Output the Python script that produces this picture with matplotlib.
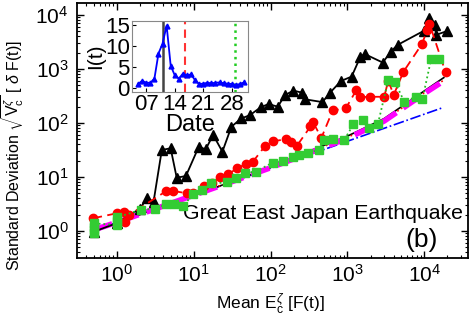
import matplotlib
matplotlib.use("Agg")
import matplotlib.pyplot as plt
import numpy as np

plt.rcParams['font.family'] = ['Liberation Sans', 'DejaVu Sans']
plt.rcParams['mathtext.fontset'] = 'custom'
plt.rcParams['mathtext.rm'] = 'Liberation Sans'
plt.rcParams['mathtext.it'] = 'Liberation Sans:italic'
plt.rcParams['mathtext.sf'] = 'Liberation Sans'

# main panel: mean vs standard deviation
tri_x = [0.50, 1.0, 2.0, 2.45, 3.0, 3.84, 5.0, 6.0, 7.9, 11.6, 14.3, 17.9, 23.6, 30.9,
         41.4, 53.7, 74, 94, 124, 155, 198, 257, 277, 473, 596, 828, 1135, 1480, 1690,
         2890, 3670, 4500, 10000, 11700, 13700, 14300, 20000]
tri_y = [0.97, 1.4, 2.6, 4.0, 3.5, 31.6, 34, 9.7, 10.4, 36, 32.6, 60, 29.4, 85,
         121, 139, 194, 224, 200, 330, 396, 364, 275, 243, 364, 600, 720, 1690, 1880,
         1310, 2090, 2780, 5120, 8870, 6390, 4270, 5040]

cir_x = [0.49, 1.0, 1.24, 1.27, 1.44, 4.4, 5.4, 8.1, 9.7, 13.4, 17.1, 22, 28, 36.8,
         47.5, 59, 84, 107, 159, 186, 218, 331, 357, 458, 644, 955, 1310, 1460, 1990,
         3020, 3400, 4010, 5350, 9360, 11000, 11700, 19000]
cir_y = [1.72, 2.13, 2.28, 1.49, 1.98, 5.5, 5.5, 5.0, 5.1, 6.8, 7.6, 9.9, 11.3, 14.4,
         17.4, 19.2, 36.8, 46, 49.7, 45, 37, 86, 104, 52.6, 170, 187, 406, 300, 305,
         305, 604, 330, 880, 2900, 5350, 6900, 862]

sq_x = [0.5, 0.5, 0.5, 0.5, 1.0, 1.0, 1.0, 2.05, 3.1, 4.4, 5.5, 7.3, 9.9, 13, 17, 27,
        36, 46, 64, 107, 144, 194, 237, 304, 433, 490, 650, 910, 1200, 1580, 1930, 2500,
        3400, 4150, 5500, 7800, 9500, 12300, 15600]
sq_y = [0.92, 1.05, 1.2, 1.38, 1.3, 1.55, 1.8, 2.45, 2.6, 3.1, 3.1, 2.95, 4.8, 5.75, 7.6, 7.9,
        9.4, 11.8, 12.6, 18.5, 19.8, 23.7, 25.5, 28.3, 31.5, 48.5, 50.5, 48.5, 94.5, 113, 80, 96,
        625, 580, 247, 305, 278, 1510, 1510]

# fitted curves
fit_x = [0.5, 1, 3, 10, 30, 100, 300, 1000, 3000, 10000, 18000]
fit_black = [0.97, 1.4, 2.5, 4.6, 8.0, 15.0, 29, 57, 120, 390, 690]
fit_red = [1.0, 1.42, 2.5, 4.6, 8.0, 14.8, 28, 54, 112, 360, 620]
mag_x = [0.5, 1, 3, 10, 30, 100, 300, 1000, 3000, 10000, 16000]
fit_mag = [1.05, 1.45, 2.5, 4.6, 8.0, 14.8, 27, 52, 108, 350, 540]
blue_x = [0.5, 17300]
fit_blue = [1.02, 191]

# inset: I(t) by date in March
days = list(range(5, 32))
itens = [0.9, 1.7, 1.2, 1.2, 2.2, 8.2, 10.6, 14.9, 5.3, 3.0, 2.2, 3.4, 3.0, 3.2,
         1.8, 0.9, 1.0, 1.2, 1.1, 1.2, 1.3, 1.1, 1.0, 0.9, 0.7, 0.9, 1.3]
day_quake = 11
day_red = 16.5
day_green = 28.8

fig = plt.figure(figsize=(4.72, 3.27), dpi=100)
ax = fig.add_axes([0.1631, 0.211, 0.8284, 0.7798])

ax.plot(blue_x, fit_blue, '-.', color='#0000ff', lw=1.2, zorder=2)
ax.plot(fit_x, fit_black, '-', color='black', lw=1.2, zorder=3)
ax.plot(fit_x, fit_red, ':', color='red', lw=1.2, zorder=3)
ax.plot(mag_x, fit_mag, '--', color='#ff00ff', lw=4, dashes=(3.5, 1.5), zorder=4)

ax.plot(tri_x, tri_y, '-^', color='black', lw=1.3, ms=6.5, zorder=5)
ax.plot(cir_x, cir_y, '--o', color='red', lw=1.3, ms=6, dashes=(5, 3), zorder=6)
ax.plot(sq_x, sq_y, ':s', color='#22bb22', mfc='#33cc33', mec='#33cc33', lw=1.3, ms=6, zorder=7)

ax.set_xscale('log')
ax.set_yscale('log')
ax.set_xlim(10**-0.52, 10**4.57)
ax.set_ylim(10**-0.5, 10**4.22)
ax.set_xticks([1, 10, 100, 1000, 10000])
ax.set_yticks([1, 10, 100, 1000, 10000])
ax.tick_params(which='both', direction='in', top=True, right=True, labelsize=15)
ax.tick_params(which='major', length=5, width=1)
ax.tick_params(which='minor', length=2.5, width=0.8)
ax.tick_params(axis='x', pad=4)
ax.tick_params(axis='y', pad=6)
for s in ax.spines.values():
    s.set_linewidth(1.3)

ax.set_xlabel(r'Mean E$_\mathrm{c}^\zeta$ [F(t)]', fontsize=12.5)
ax.xaxis.set_label_coords(0.496, -0.13)
ax.set_ylabel(r'Standard Deviation $\sqrt{\mathrm{V}_\mathrm{c}^\zeta}$ [ $\delta$ F(t)]', fontsize=11.5)
ax.yaxis.set_label_coords(-0.13, 0.40)

ax.text(0.272, 0.175, 'Great East Japan Earthquake', transform=ax.transAxes,
        fontsize=15.3, va='center', ha='left')
ax.text(0.88, 0.07, '(b)', transform=ax.transAxes, fontsize=19, va='center', ha='center')

# inset
ins = fig.add_axes([0.2797, 0.7187, 0.2458, 0.2171])
ins.axvline(day_quake, color='#444444', lw=1.8)
ins.axvline(day_red, color='#ff3333', lw=1.5, ls='--', dashes=(4, 2.5))
ins.axvline(day_green, color='#22cc22', lw=1.8, ls=':')
ins.plot(days, itens, '-^', color='#0000ff', lw=1.3, ms=3.5)
ins.set_xlim(3.5, 32)
ins.set_ylim(-1, 16)
ins.set_xticks([7, 14, 21, 28])
ins.set_xticklabels(['07', '14', '21', '28'])
ins.set_yticks([0, 5, 10, 15])
ins.tick_params(direction='in', labelsize=16, length=3, pad=1.5)
for s in ins.spines.values():
    s.set_color('#888888')
ins.set_xlabel('Date', fontsize=17, labelpad=-1)
ins.set_ylabel('I(t)', fontsize=15, labelpad=0)

fig.savefig('out.png', dpi=100)
